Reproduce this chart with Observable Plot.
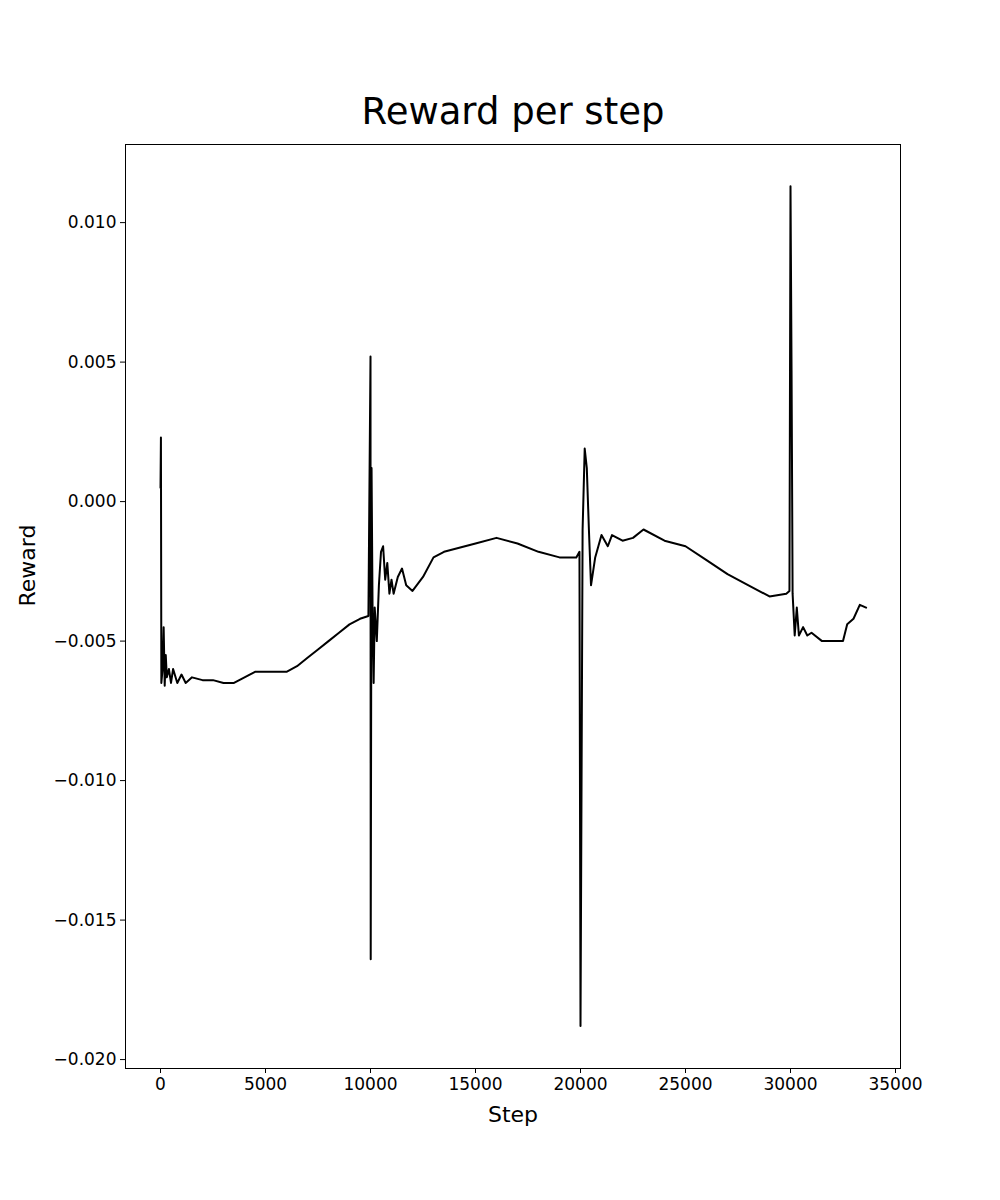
<!DOCTYPE html>
<html>
<head>
<meta charset="utf-8">
<script src="https://cdn.jsdelivr.net/npm/d3@7"></script>
<script src="https://cdn.jsdelivr.net/npm/@observablehq/plot@0.6"></script>
<style>body{margin:0;background:#fff;font-family:"DejaVu Sans",sans-serif}</style>
</head>
<body>
<div id="chart"></div>
<script>
// pasos y recompensa
const steps = [0,20,40,100,150,200,250,300,400,500,600,800,1000,1200,1500,2000,2500,3000,3500,4000,4500,5000,6000,6500,7000,7500,8000,8500,9000,9500,9900,
  10000,10010,10050,10100,10150,10200,10300,10400,10500,10600,10700,10800,10900,11000,11100,11300,11500,11700,12000,12500,13000,13500,14000,15000,16000,17000,18000,19000,19800,19950,
  20000,20050,20100,20200,20300,20400,20500,20700,21000,21300,21500,22000,22500,23000,24000,25000,26000,27000,28000,29000,29800,29950,
  30000,30050,30100,30200,30300,30400,30600,30800,31000,31500,32000,32500,32700,33000,33300,33600]
const rewards = [0.0005,0.0023,-0.0065,-0.006,-0.0045,-0.0066,-0.0055,-0.0063,-0.006,-0.0065,-0.006,-0.0065,-0.0062,-0.0065,-0.0063,-0.0064,-0.0064,-0.0065,-0.0065,-0.0063,-0.0061,-0.0061,-0.0061,-0.0059,-0.0056,-0.0053,-0.005,-0.0047,-0.0044,-0.0042,-0.0041,
  0.0052,-0.0164,0.0012,-0.004,-0.0065,-0.0038,-0.005,-0.003,-0.0018,-0.0016,-0.0028,-0.0022,-0.0033,-0.0028,-0.0033,-0.0027,-0.0024,-0.003,-0.0032,-0.0027,-0.002,-0.0018,-0.0017,-0.0015,-0.0013,-0.0015,-0.0018,-0.002,-0.002,-0.0018,
  -0.0188,-0.01,-0.001,0.0019,0.0012,-0.001,-0.003,-0.002,-0.0012,-0.0016,-0.0012,-0.0014,-0.0013,-0.001,-0.0014,-0.0016,-0.0021,-0.0026,-0.003,-0.0034,-0.0033,-0.0032,
  0.0113,0.0047,-0.0033,-0.0048,-0.0038,-0.0048,-0.0045,-0.0048,-0.0047,-0.005,-0.005,-0.005,-0.0044,-0.0042,-0.0037,-0.0038]
const xTicks = [0,5000,10000,15000,20000,25000,30000,35000]
const yTicks = [0.010,0.005,0.000,-0.005,-0.010,-0.015,-0.020]

const data = steps.map((s, i) => ({step: s, reward: rewards[i]}))

let chart = Plot.plot({
  width: 1000,
  height: 1200,
  marginTop: 144, marginBottom: 132, marginLeft: 125, marginRight: 100,
  style: {fontSize: "17px", fontFamily: "DejaVu Sans, sans-serif", color: "#000"},
  x: {domain: [-1667, 35238], ticks: xTicks, tickFormat: d => String(d), tickSize: 5, label: null},
  y: {domain: [-0.02032, 0.0128], ticks: yTicks, tickFormat: d => d.toFixed(3).replace("-", "−"), tickSize: 5, label: null},
  marks: [
    Plot.frame({stroke: "#000"}),
    Plot.line(data, {x: "step", y: "reward", stroke: "#000", strokeWidth: 2}),
    Plot.text(["Reward per step"], {frameAnchor: "top", dy: -21, lineAnchor: "bottom", fontSize: 37, text: d => d}),
    Plot.text(["Step"], {frameAnchor: "bottom", dy: 46, lineAnchor: "middle", fontSize: 22, text: d => d}),
    Plot.text(["Reward"], {frameAnchor: "left", dx: -98, rotate: -90, fontSize: 22, text: d => d})
  ]
})
d3.select('#chart').append(() => chart)
</script>
</body>
</html>
